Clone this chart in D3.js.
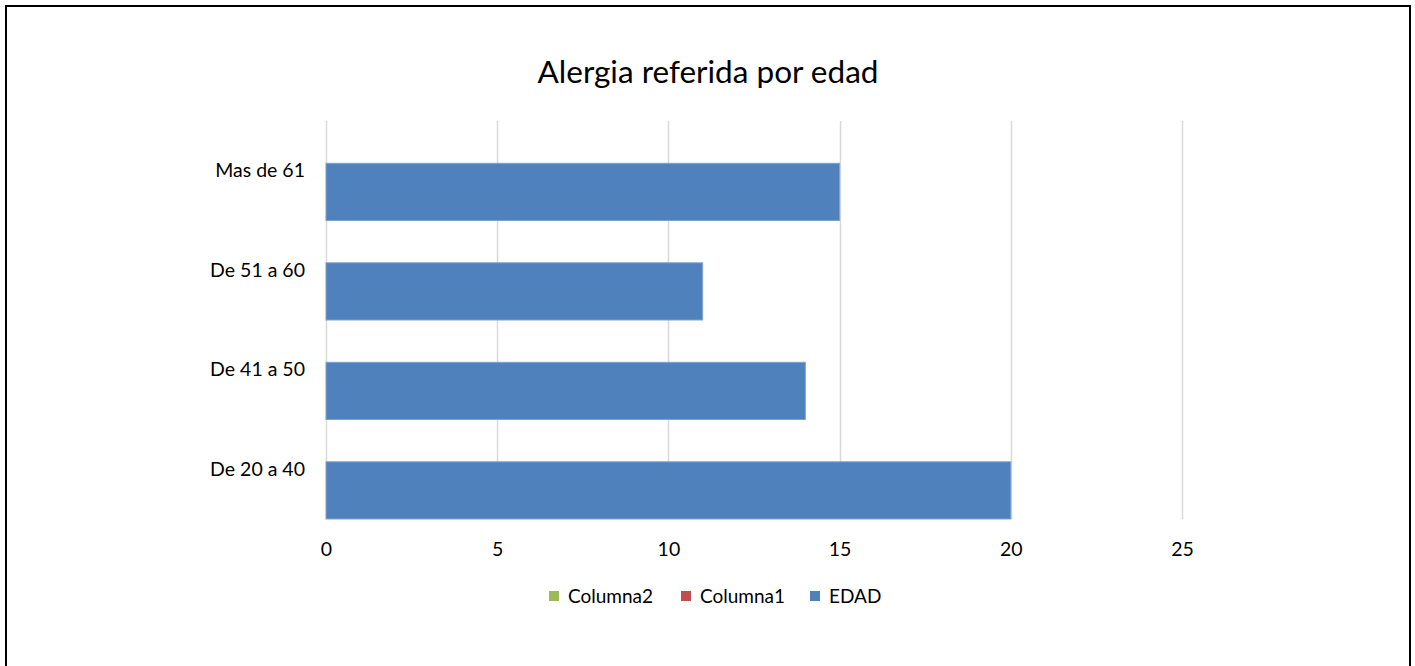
<!DOCTYPE html>
<html><head><meta charset="utf-8">
<script src="https://cdn.jsdelivr.net/npm/d3@7/dist/d3.min.js"></script>
<style>body{margin:0;background:#fff;}svg{display:block;font-family:Lato, "Liberation Sans", sans-serif;}</style>
</head><body>
<svg id="c" width="1415" height="666"></svg>
<script>
const title = "Alergia referida por edad";
const categories = ["De 20 a 40", "De 41 a 50", "De 51 a 60", "Mas de 61"];
const edad = [20, 14, 11, 15];
const seriesNames = ["Columna2", "Columna1", "EDAD"];
const seriesColors = ["#9BBB59", "#C0504D", "#4F81BD"];
const xTicks = [0, 5, 10, 15, 20, 25];

(function(){
const svg = d3.select("#c");
svg.append("rect").attr("x", 6).attr("y", 6).attr("width", 1404).attr("height", 700)
  .attr("fill", "#fff").attr("stroke", "#000").attr("stroke-width", 2);

svg.append("text").attr("x", 708).attr("y", 83).attr("text-anchor", "middle")
  .attr("font-size", 31.5).attr("fill", "#000").text(title);

const pL = 326, pR = 1182, pT = 121, pB = 519;
const x = d3.scaleLinear().domain([0, 25]).range([pL, pR]);
const y = d3.scaleBand().domain(categories.slice().reverse()).range([pT, pB]);

svg.append("g").selectAll("line").data(xTicks).join("line")
  .attr("x1", d => Math.round(x(d)) + 0.5).attr("x2", d => Math.round(x(d)) + 0.5)
  .attr("y1", pT).attr("y2", pB).attr("stroke", "#D9D9D9").attr("stroke-width", 1.5);

const barH = y.bandwidth() * 0.575;
svg.append("g").selectAll("rect").data(categories.map((c, i) => ({c, v: edad[i]}))).join("rect")
  .attr("x", x(0)).attr("y", d => y(d.c) + y.bandwidth() - barH)
  .attr("width", d => x(d.v) - x(0)).attr("height", barH)
  .attr("fill", "#4F81BD").attr("stroke", "#7FA3D0").attr("stroke-width", 1);

const gy = svg.append("g").attr("transform", "translate(305,0)")
  .call(d3.axisLeft(y).tickSize(0).tickPadding(0));
gy.select(".domain").remove();
gy.selectAll("text").attr("font-size", 19.5).attr("fill", "#000").attr("font-family", "Lato, sans-serif");

const gx = svg.append("g").attr("transform", `translate(0,${pB})`)
  .call(d3.axisBottom(x).tickValues(xTicks).tickSize(0).tickPadding(0));
gx.select(".domain").remove();
gx.selectAll("text").attr("font-size", 19.5).attr("fill", "#000").attr("font-family", "Lato, sans-serif")
  .attr("y", 30).attr("dy", "0.35em");

const legX = [549, 681, 810];
const lg = svg.append("g").selectAll("g").data(seriesNames).join("g")
  .attr("transform", (d, i) => `translate(${legX[i]},591)`);
lg.append("rect").attr("width", 10).attr("height", 10).attr("fill", (d, i) => seriesColors[i]);
lg.append("text").attr("x", 19).attr("y", 5.5).attr("dy", "0.35em").attr("font-size", 19).attr("fill", "#000").text(d => d);
})();
</script>
</body></html>
